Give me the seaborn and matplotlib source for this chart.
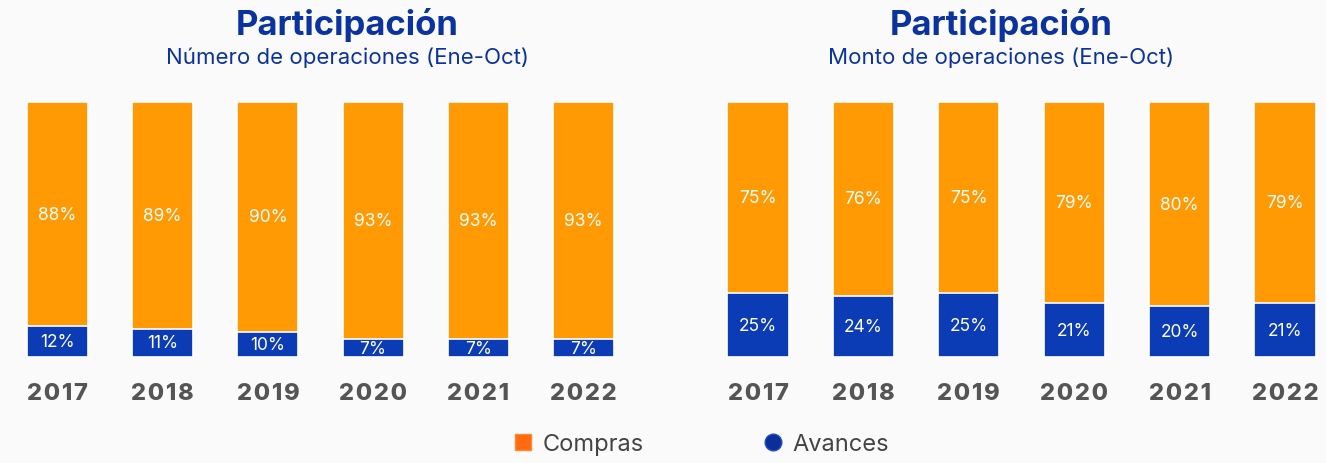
import matplotlib
matplotlib.use("Agg")
import matplotlib.pyplot as plt
import seaborn as sns
import pandas as pd
from matplotlib.lines import Line2D

years = ["2017", "2018", "2019", "2020", "2021", "2022"]
num_compras = [88, 89, 90, 93, 93, 93]
num_avances = [12, 11, 10, 7, 7, 7]
monto_compras = [75, 76, 75, 79, 80, 79]
monto_avances = [25, 24, 25, 21, 20, 21]

title = "Participación"
subtitles = ["Número de operaciones (Ene-Oct)", "Monto de operaciones (Ene-Oct)"]

ORANGE = "#FF9A05"
BLUE = "#0B3BB5"
NAVY = "#0A33A0"

sns.set_theme(style="white")
plt.rcParams["font.family"] = ["Inter", "DejaVu Sans"]

W, H = 1326, 464
fig = plt.figure(figsize=(W / 100, H / 100), dpi=100)
fig.patch.set_facecolor("#FBFAFB")

bottom = (H - 358) / H
height = 255 / H
ax_l = fig.add_axes([5 / W, bottom, 631 / W, height])
ax_r = fig.add_axes([726.4 / W, bottom, 590.2 / W, height])


def draw(ax, compras, avances, xlim):
    df = pd.DataFrame({"year": years, "compras": compras, "avances": avances})
    df["total"] = df["compras"] + df["avances"]
    sns.barplot(data=df, x="year", y="total", color=ORANGE, width=0.58,
                saturation=1, ax=ax, edgecolor="white", linewidth=1.2)
    sns.barplot(data=df, x="year", y="avances", color=BLUE, width=0.58,
                saturation=1, ax=ax, edgecolor="white", linewidth=1.2)
    for i, row in df.iterrows():
        ax.text(i, row["avances"] + row["compras"] / 2, f"{row['compras']}%",
                ha="center", va="center", color="white", fontsize=12.5)
        ax.text(i, row["avances"] / 2, f"{row['avances']}%",
                ha="center", va="center", color="white", fontsize=12.5)
    ax.set_xlim(*xlim)
    ax.set_ylim(0, 100)
    ax.set_xlabel("")
    ax.set_ylabel("")
    ax.set_yticks([])
    ax.set_xticks(range(len(years)))
    ax.set_xticklabels(["\u200a".join(y) for y in years], fontweight="heavy")
    ax.set_facecolor("none")
    for s in ax.spines.values():
        s.set_visible(False)
    ax.tick_params(axis="x", length=0, pad=18, labelsize=17, labelcolor="#555555")


draw(ax_l, num_compras, num_avances, (-0.5, 5.5))
draw(ax_r, monto_compras, monto_avances, (-0.3, 5.3))

for cx, sub in zip([347, 1001], subtitles):
    fig.text(cx / W, 1 - 25 / H, title, ha="center", va="center",
             fontsize=25, fontweight="bold", color=NAVY)
    fig.text(cx / W, 1 - 58 / H, sub, ha="center", va="center",
             fontsize=16, color=NAVY)

handles = [
    Line2D([], [], marker="s", linestyle="", markersize=12,
           markerfacecolor="#FF6A10", markeredgecolor="#FF8A30"),
    Line2D([], [], marker="o", linestyle="", markersize=12,
           markerfacecolor="#0A2F9A", markeredgecolor="#2A4FBA"),
]
fig.legend(handles, ["Compras", "Avances"], loc="center",
           bbox_to_anchor=(700 / W, 1 - 445 / H), ncol=2, frameon=False,
           fontsize=17, labelcolor="#444444", handletextpad=0.3,
           columnspacing=5.0, handlelength=1.0)

fig.savefig("out.png", dpi=100, facecolor=fig.get_facecolor())
